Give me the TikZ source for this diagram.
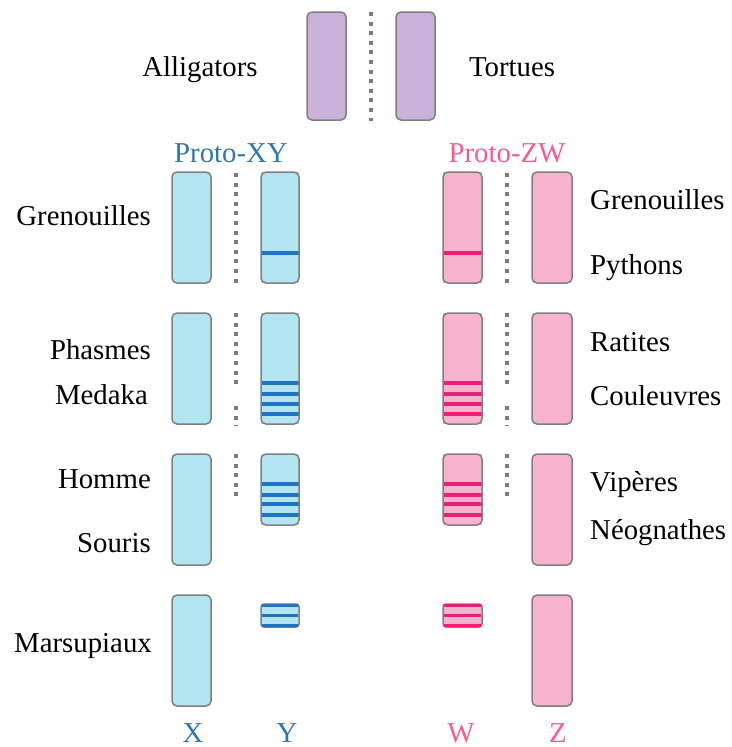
\documentclass[tikz,border=0pt]{standalone}
\usepackage{fontspec}
\setmainfont{Liberation Serif}
\definecolor{cborder}{HTML}{7F7F7F}
\definecolor{cpurple}{HTML}{C8B2DA}
\definecolor{cblue}{HTML}{B3E4F2}
\definecolor{cpink}{HTML}{F7B2CD}
\definecolor{cstripeb}{HTML}{1E73C4}
\definecolor{cstripep}{HTML}{E8207A}
\definecolor{cdot}{HTML}{7A7A7A}
\definecolor{ctxtb}{HTML}{2E75B6}
\definecolor{ctxtp}{HTML}{F25C8E}
\begin{document}
\begin{tikzpicture}[x=1pt,y=-1pt,
  chrom/.style={draw=cborder, line width=1.5pt, rounded corners=5pt},
  bluechrom/.style={chrom, fill=cblue},
  pinkchrom/.style={chrom, fill=cpink},
  purplechrom/.style={chrom, fill=cpurple},
  stripeb/.style={draw=cstripeb, line width=3.3pt},
  stripep/.style={draw=cstripep, line width=3.3pt},
  dotline/.style={draw=cdot, line width=4pt, dash pattern=on 4pt off 5.6pt},
  lbl/.style={font=\fontsize{28.8}{34}\selectfont, inner sep=0pt},
  lblL/.style={lbl, anchor=base east},
  lblR/.style={lbl, anchor=base west},
  lblC/.style={lbl, anchor=base}
]
\useasboundingbox (0,0) rectangle (731,747);

% ---- top: purple
\draw[purplechrom] (307,12) rectangle (346,120);
\draw[purplechrom] (396,12) rectangle (435,120);
\coordinate (pd1) at (371,12); \coordinate (pd2) at (371,121);
\draw[dotline] (pd1) -- (pd2);
\node[lblC] (alli) at (200,76) {Alligators};
\node[lblC] (tort) at (512,76) {Tortues};

% ---- titles
\node[lblC, text=ctxtb] (pxy) at (231,162) {Proto-XY};
\node[lblC, text=ctxtp] (pzw) at (507,162) {Proto-ZW};

% ---- row 1
\draw[bluechrom] (172,172) rectangle (211,283);
\fill[cblue] (261,172) rectangle (299,283);
\draw[stripeb] (261,253) -- (299,253);
\draw[chrom] (261,172) rectangle (299,283);
\draw[dotline] (236,173) -- (236,283);
\fill[cpink] (443,172) rectangle (482,283);
\draw[stripep] (443,253) -- (482,253);
\draw[chrom] (443,172) rectangle (482,283);
\draw[pinkchrom] (532,172) rectangle (572,283);
\draw[dotline] (507,173) -- (507,283);

% ---- row 2
\draw[bluechrom] (172,313) rectangle (211,424);
\fill[cblue] (261,313) rectangle (299,424);
\foreach \yy in {383,394,404,414} \draw[stripeb] (261,\yy) -- (299,\yy);
\draw[chrom] (261,313) rectangle (299,424);
\draw[dotline] (236,313) -- (236,386);
\draw[dotline] (236,406) -- (236,426);
\fill[cpink] (443,313) rectangle (482,424);
\foreach \yy in {383,394,404,414} \draw[stripep] (443,\yy) -- (482,\yy);
\draw[chrom] (443,313) rectangle (482,424);
\draw[pinkchrom] (532,313) rectangle (572,424);
\draw[dotline] (507,313) -- (507,386);
\draw[dotline] (507,406) -- (507,426);

% ---- row 3
\draw[bluechrom] (172,454) rectangle (211,565);
\fill[cblue] (261,454) rectangle (299,525);
\foreach \yy in {484,495,504,515} \draw[stripeb] (261,\yy) -- (299,\yy);
\draw[chrom] (261,454) rectangle (299,525);
\draw[dotline] (236,454) -- (236,501);
\fill[cpink] (443,454) rectangle (482,525);
\foreach \yy in {484,495,504,515} \draw[stripep] (443,\yy) -- (482,\yy);
\draw[chrom] (443,454) rectangle (482,525);
\draw[pinkchrom] (532,454) rectangle (572,565);
\draw[dotline] (507,454) -- (507,501);

% ---- row 4
\draw[bluechrom] (172,595) rectangle (211,706);
\draw[chrom, fill=cblue, rounded corners=3pt] (261,604) rectangle (299,627);
\foreach \yy in {605.5,615.5,625.5} \draw[stripeb] (262,\yy) -- (298,\yy);
\draw[chrom, fill=cpink, rounded corners=3pt] (443,604) rectangle (482,627);
\foreach \yy in {605.5,615.5,625.5} \draw[stripep] (444,\yy) -- (481,\yy);
\draw[pinkchrom] (532,595) rectangle (572,706);

% ---- left labels
\node[lblL] (lg) at (151,225) {Grenouilles};
\node[lblL] (lph) at (151,359) {Phasmes};
\node[lblL] (lme) at (148,404) {Medaka};
\node[lblL] (lho) at (151,488) {Homme};
\node[lblL] (lso) at (151,552) {Souris};
\node[lblL] (lma) at (152,652) {Marsupiaux};

% ---- right labels
\node[lblR] (rg) at (590,209) {Grenouilles};
\node[lblR] (rpy) at (590,274) {Pythons};
\node[lblR] (rra) at (590,351) {Ratites};
\node[lblR] (rco) at (590,405) {Couleuvres};
\node[lblR] (rvi) at (590,491) {Vipères};
\node[lblR] (rne) at (590,539) {Néognathes};

% ---- bottom letters
\node[lblC, text=ctxtb] (lx) at (193,742) {X};
\node[lblC, text=ctxtb] (ly) at (287,742) {Y};
\node[lblC, text=ctxtp] (lw) at (461,742) {W};
\node[lblC, text=ctxtp] (lz) at (558,742) {Z};
\end{tikzpicture}
\end{document}
